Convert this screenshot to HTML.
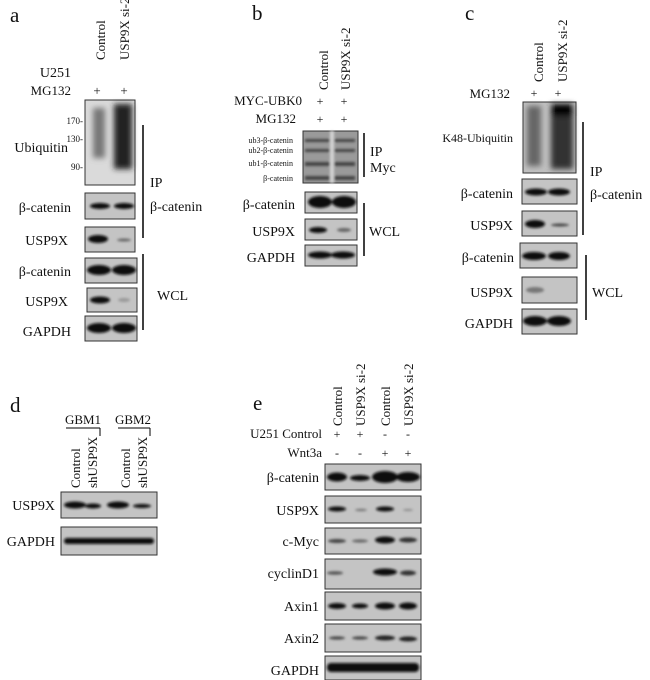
<!DOCTYPE html>
<html><head><meta charset="utf-8"><style>
html,body{margin:0;padding:0;background:#fff;}
svg{display:block;font-family:"Liberation Serif",serif;}
</style></head><body>
<svg width="650" height="680" viewBox="0 0 650 680" xmlns="http://www.w3.org/2000/svg">
<defs>
<filter id="b" x="-30%" y="-100%" width="160%" height="300%"><feGaussianBlur stdDeviation="1.3"/></filter>
<filter id="bb" x="-30%" y="-30%" width="160%" height="160%"><feGaussianBlur stdDeviation="3"/></filter>
</defs>
<g fill="#111">
<!-- panel a -->
<text x="10" y="22" font-size="21">a</text>
<text transform="translate(105,60) rotate(-90)" font-size="13">Control</text>
<text transform="translate(129,60) rotate(-90)" font-size="13">USP9X si-2</text>
<text x="71" y="77" font-size="14" text-anchor="end">U251</text>
<text x="71" y="95" font-size="13" text-anchor="end">MG132</text>
<text x="97" y="95" font-size="13" text-anchor="middle">+</text>
<text x="124" y="95" font-size="13" text-anchor="middle">+</text>
<text x="68" y="152" font-size="14" text-anchor="end">Ubiquitin</text>
<text x="83" y="124" font-size="9" text-anchor="end">170-</text>
<text x="83" y="142" font-size="9" text-anchor="end">130-</text>
<text x="83" y="170" font-size="9" text-anchor="end">90-</text>
<text x="71" y="212" font-size="14" text-anchor="end">β-catenin</text>
<text x="68" y="245" font-size="14" text-anchor="end">USP9X</text>
<text x="71" y="276" font-size="14" text-anchor="end">β-catenin</text>
<text x="68" y="306" font-size="14" text-anchor="end">USP9X</text>
<text x="71" y="336" font-size="14" text-anchor="end">GAPDH</text>
<text x="150" y="187" font-size="14">IP</text>
<text x="150" y="211" font-size="14">β-catenin</text>
<text x="157" y="300" font-size="14">WCL</text>
</g>
<g stroke="#000" stroke-width="1.5"><line x1="143" y1="125" x2="143" y2="238"/><line x1="143" y1="254" x2="143" y2="330"/></g>
<g stroke="#333" stroke-width="1" fill="#c4c4c4">
<rect x="85" y="100" width="50" height="85" fill="#dadada"/>
<rect x="85" y="193" width="50" height="26"/>
<rect x="85" y="227" width="50" height="25"/>
<rect x="85" y="258" width="52" height="25"/>
<rect x="87" y="288" width="50" height="24"/>
<rect x="85" y="316" width="52" height="25"/>
</g>
<g fill="#111" filter="url(#b)">
<ellipse cx="100" cy="206" rx="10" ry="3"/><ellipse cx="124" cy="206" rx="10" ry="3"/>
<ellipse cx="98" cy="239" rx="10" ry="4"/><ellipse cx="124" cy="240" rx="7" ry="1.5" fill="#666"/>
<ellipse cx="99" cy="270" rx="12" ry="5"/><ellipse cx="124" cy="270" rx="12" ry="5"/>
<ellipse cx="100" cy="300" rx="10" ry="3.5"/><ellipse cx="124" cy="300" rx="6" ry="2" fill="#999"/>
<ellipse cx="99" cy="328" rx="12" ry="5"/><ellipse cx="124" cy="328" rx="12" ry="5"/>
</g>
<g filter="url(#bb)">
<rect x="93" y="108" width="12" height="50" fill="#777"/>
<rect x="114" y="104" width="18" height="65" fill="#222"/>
</g>
<!-- panel b -->
<g fill="#111">
<text x="252" y="20" font-size="21">b</text>
<text transform="translate(328,90) rotate(-90)" font-size="13">Control</text>
<text transform="translate(350,90) rotate(-90)" font-size="13">USP9X si-2</text>
<text x="302" y="105" font-size="13" text-anchor="end">MYC-UBK0</text>
<text x="296" y="123" font-size="13" text-anchor="end">MG132</text>
<text x="320" y="105" font-size="12" text-anchor="middle">+</text><text x="344" y="105" font-size="12" text-anchor="middle">+</text>
<text x="320" y="123" font-size="12" text-anchor="middle">+</text><text x="344" y="123" font-size="12" text-anchor="middle">+</text>
<g font-size="8" text-anchor="end"><text x="293" y="143">ub3-β-catenin</text><text x="293" y="153">ub2-β-catenin</text><text x="293" y="166">ub1-β-catenin</text><text x="293" y="181">β-catenin</text></g>
<text x="370" y="156" font-size="14">IP</text>
<text x="370" y="172" font-size="14">Myc</text>
<text x="295" y="209" font-size="14" text-anchor="end">β-catenin</text>
<text x="295" y="236" font-size="14" text-anchor="end">USP9X</text>
<text x="295" y="262" font-size="14" text-anchor="end">GAPDH</text>
<text x="369" y="236" font-size="14">WCL</text>
</g>
<g stroke="#000" stroke-width="1.5"><line x1="364" y1="133" x2="364" y2="177"/><line x1="364" y1="203" x2="364" y2="256"/></g>
<g stroke="#333" stroke-width="1" fill="#c4c4c4">
<rect x="303" y="131" width="55" height="52" fill="#9a9a9a"/>
<rect x="305" y="192" width="52" height="21"/>
<rect x="305" y="219" width="52" height="21"/>
<rect x="305" y="245" width="52" height="21"/>
</g>
<g fill="#444" filter="url(#b)">
<rect x="305" y="139" width="50" height="3"/><rect x="305" y="149" width="50" height="3"/><rect x="305" y="162" width="50" height="4"/><rect x="305" y="176" width="50" height="4"/>
<rect x="330" y="131" width="4" height="52" fill="#d4d4d4"/>
<ellipse cx="320" cy="202" rx="12" ry="6" fill="#111"/><ellipse cx="344" cy="202" rx="12" ry="6" fill="#111"/>
<ellipse cx="318" cy="230" rx="9" ry="3" fill="#111"/><ellipse cx="344" cy="230" rx="7" ry="2" fill="#666"/>
<ellipse cx="320" cy="255" rx="12" ry="3.5" fill="#111"/><ellipse cx="343" cy="255" rx="12" ry="3.5" fill="#111"/>
</g>
<!-- panel c -->
<g fill="#111">
<text x="465" y="20" font-size="21">c</text>
<text transform="translate(543,82) rotate(-90)" font-size="13">Control</text>
<text transform="translate(567,82) rotate(-90)" font-size="13">USP9X si-2</text>
<text x="510" y="98" font-size="13" text-anchor="end">MG132</text>
<text x="534" y="97" font-size="12" text-anchor="middle">+</text><text x="558" y="97" font-size="12" text-anchor="middle">+</text>
<text x="513" y="142" font-size="12" text-anchor="end">K48-Ubiquitin</text>
<text x="513" y="198" font-size="14" text-anchor="end">β-catenin</text>
<text x="513" y="230" font-size="14" text-anchor="end">USP9X</text>
<text x="514" y="262" font-size="14" text-anchor="end">β-catenin</text>
<text x="513" y="297" font-size="14" text-anchor="end">USP9X</text>
<text x="513" y="328" font-size="14" text-anchor="end">GAPDH</text>
<text x="590" y="176" font-size="14">IP</text>
<text x="590" y="199" font-size="14">β-catenin</text>
<text x="592" y="297" font-size="14">WCL</text>
</g>
<g stroke="#000" stroke-width="1.5"><line x1="583" y1="122" x2="583" y2="235"/><line x1="586" y1="255" x2="586" y2="320"/></g>
<g stroke="#333" stroke-width="1" fill="#c4c4c4">
<rect x="523" y="102" width="53" height="71" fill="#c0c0c0"/>
<rect x="522" y="179" width="55" height="25"/>
<rect x="522" y="211" width="55" height="25"/>
<rect x="520" y="243" width="57" height="25"/>
<rect x="522" y="277" width="55" height="26"/>
<rect x="522" y="309" width="55" height="25"/>
</g>
<g filter="url(#bb)">
<rect x="527" y="106" width="14" height="60" fill="#666"/>
<rect x="551" y="104" width="22" height="65" fill="#333"/>
<rect x="552" y="104" width="20" height="12" fill="#000"/>
</g>
<g fill="#111" filter="url(#b)">
<ellipse cx="536" cy="192" rx="11" ry="3.5"/><ellipse cx="559" cy="192" rx="11" ry="3.5"/>
<ellipse cx="535" cy="224" rx="10" ry="4"/><ellipse cx="560" cy="225" rx="9" ry="1.5" fill="#444"/>
<ellipse cx="534" cy="256" rx="12" ry="4"/><ellipse cx="559" cy="256" rx="11" ry="4"/>
<ellipse cx="535" cy="290" rx="9" ry="3" fill="#777"/>
<ellipse cx="535" cy="321" rx="12" ry="5"/><ellipse cx="559" cy="321" rx="12" ry="5"/>
</g>
<!-- panel d -->
<g fill="#111">
<text x="10" y="412" font-size="21">d</text>
<text x="83" y="424" font-size="13" text-anchor="middle">GBM1</text>
<text x="133" y="424" font-size="13" text-anchor="middle">GBM2</text>
<text transform="translate(80,488) rotate(-90)" font-size="13">Control</text>
<text transform="translate(97,488) rotate(-90)" font-size="13">shUSP9X</text>
<text transform="translate(130,488) rotate(-90)" font-size="13">Control</text>
<text transform="translate(147,488) rotate(-90)" font-size="13">shUSP9X</text>
<text x="55" y="510" font-size="14" text-anchor="end">USP9X</text>
<text x="55" y="546" font-size="14" text-anchor="end">GAPDH</text>
</g>
<g stroke="#000" stroke-width="1"><line x1="66" y1="428" x2="100" y2="428"/><line x1="100" y1="428" x2="100" y2="436"/><line x1="118" y1="428" x2="150" y2="428"/><line x1="150" y1="428" x2="150" y2="436"/></g>
<g stroke="#333" stroke-width="1" fill="#c4c4c4">
<rect x="61" y="492" width="96" height="26"/>
<rect x="61" y="527" width="96" height="28"/>
</g>
<g fill="#111" filter="url(#b)">
<ellipse cx="75" cy="505" rx="11" ry="3.5"/><ellipse cx="93" cy="506" rx="8" ry="2.5"/><ellipse cx="118" cy="505" rx="11" ry="3.5"/><ellipse cx="142" cy="506" rx="9" ry="2"/>
<rect x="64" y="538" width="90" height="6" rx="3"/>
</g>
<!-- panel e -->
<g fill="#111">
<text x="253" y="410" font-size="21">e</text>
<text transform="translate(342,426) rotate(-90)" font-size="13">Control</text>
<text transform="translate(365,426) rotate(-90)" font-size="13">USP9X si-2</text>
<text transform="translate(390,426) rotate(-90)" font-size="13">Control</text>
<text transform="translate(413,426) rotate(-90)" font-size="13">USP9X si-2</text>
<text x="322" y="438" font-size="13" text-anchor="end">U251 Control</text>
<text x="322" y="457" font-size="13" text-anchor="end">Wnt3a</text>
<g font-size="12" text-anchor="middle"><text x="337" y="438">+</text><text x="360" y="438">+</text><text x="385" y="438">-</text><text x="408" y="438">-</text>
<text x="337" y="457">-</text><text x="360" y="457">-</text><text x="385" y="457">+</text><text x="408" y="457">+</text></g>
<g font-size="14" text-anchor="end">
<text x="319" y="482">β-catenin</text><text x="319" y="515">USP9X</text><text x="319" y="546">c-Myc</text><text x="319" y="578">cyclinD1</text><text x="319" y="611">Axin1</text><text x="319" y="643">Axin2</text><text x="319" y="675">GAPDH</text></g>
</g>
<g stroke="#333" stroke-width="1" fill="#c4c4c4">
<rect x="325" y="464" width="96" height="26"/>
<rect x="325" y="496" width="96" height="27"/>
<rect x="325" y="528" width="96" height="26"/>
<rect x="325" y="559" width="96" height="30"/>
<rect x="325" y="592" width="96" height="28"/>
<rect x="325" y="624" width="96" height="28"/>
<rect x="325" y="656" width="96" height="24"/>
</g>
<g fill="#111" filter="url(#b)">
<ellipse cx="337" cy="477" rx="10" ry="4.5"/><ellipse cx="360" cy="478" rx="10" ry="3"/><ellipse cx="385" cy="477" rx="13" ry="6"/><ellipse cx="408" cy="477" rx="12" ry="5"/>
<ellipse cx="337" cy="509" rx="9" ry="2.5"/><ellipse cx="361" cy="510" rx="6" ry="1.2" fill="#777"/><ellipse cx="385" cy="509" rx="9" ry="2.5"/><ellipse cx="408" cy="510" rx="5" ry="1" fill="#888"/>
<ellipse cx="337" cy="541" rx="9" ry="2" fill="#444"/><ellipse cx="360" cy="541" rx="8" ry="1.6" fill="#666"/><ellipse cx="385" cy="540" rx="10" ry="3.5"/><ellipse cx="408" cy="540" rx="9" ry="2.5" fill="#333"/>
<ellipse cx="335" cy="573" rx="8" ry="1.8" fill="#555"/><ellipse cx="385" cy="572" rx="12" ry="3.5"/><ellipse cx="408" cy="573" rx="8" ry="2.5" fill="#333"/>
<ellipse cx="337" cy="606" rx="9" ry="3"/><ellipse cx="360" cy="606" rx="8" ry="2.5"/><ellipse cx="385" cy="606" rx="10" ry="3.5"/><ellipse cx="408" cy="606" rx="9" ry="3.5"/>
<ellipse cx="337" cy="638" rx="8" ry="1.6" fill="#444"/><ellipse cx="360" cy="638" rx="8" ry="1.6" fill="#444"/><ellipse cx="385" cy="638" rx="10" ry="2.5" fill="#222"/><ellipse cx="408" cy="639" rx="9" ry="2.5" fill="#222"/>
<rect x="327" y="663" width="92" height="9" rx="4"/>
</g>
</svg>
</body></html>
